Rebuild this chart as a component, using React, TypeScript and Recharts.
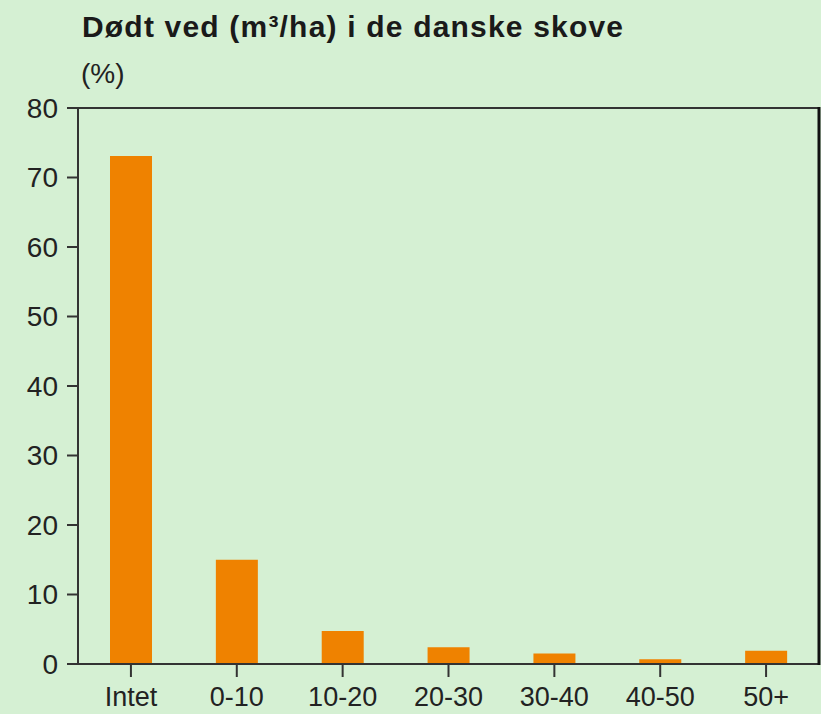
import React from 'react';
import { BarChart, Bar, XAxis, YAxis, ReferenceLine } from 'recharts';

const categories = ['Intet', '0-10', '10-20', '20-30', '30-40', '40-50', '50+'];
const percentValues = [73.1, 15.0, 4.75, 2.4, 1.5, 0.7, 1.9];
const yTicks = [0, 10, 20, 30, 40, 50, 60, 70, 80];
const titleText = 'Dødt ved (m³/ha) i de danske skove';
const unitText = '(%)';

const data = categories.map((c, i) => ({ name: c, value: percentValues[i] }));

const FONT = '"Liberation Sans", Arial, Helvetica, sans-serif';
const AXIS = '#333333';

export default function App() {
  return (
    <div
      style={{
        position: 'absolute',
        left: 0,
        top: 0,
        width: 821,
        height: 714,
        background: '#d5f0d3',
        overflow: 'hidden',
      }}
    >
      <BarChart
        width={821}
        height={714}
        data={data}
        margin={{ top: 108, right: 2, bottom: 0, left: 0 }}
        barCategoryGap={0}
      >
        <XAxis
          dataKey="name"
          height={50}
          interval={0}
          tickSize={13}
          tickMargin={10}
          stroke={AXIS}
          strokeWidth={2}
          tick={{ fill: '#222', fontSize: 27, fontFamily: FONT }}
          tickLine={{ stroke: AXIS, strokeWidth: 2 }}
        />
        <YAxis
          width={78}
          domain={[0, 80]}
          ticks={yTicks}
          interval={0}
          tickSize={11}
          tickMargin={9}
          stroke={AXIS}
          strokeWidth={2}
          tick={{ fill: '#222', fontSize: 28, fontFamily: FONT }}
          tickLine={{ stroke: AXIS, strokeWidth: 2 }}
        />
        <ReferenceLine y={80} stroke={AXIS} strokeWidth={2} ifOverflow="visible" />
        <Bar dataKey="value" fill="#ef8200" barSize={42} isAnimationActive={false} />
      </BarChart>
      <svg
        width={821}
        height={714}
        style={{ position: 'absolute', left: 0, top: 0, pointerEvents: 'none' }}
      >
        <text
          x={82}
          y={37}
          fontFamily={FONT}
          fontWeight="bold"
          fontSize={30}
          fill="#1a1a1a"
          textLength={541}
          lengthAdjust="spacing"
        >
          {titleText}
        </text>
        <text x={81} y={83} fontFamily={FONT} fontSize={28} fill="#222">
          {unitText}
        </text>
        <line x1={819} y1={107} x2={819} y2={665} stroke="#111" strokeWidth={3} />
      </svg>
    </div>
  );
}
